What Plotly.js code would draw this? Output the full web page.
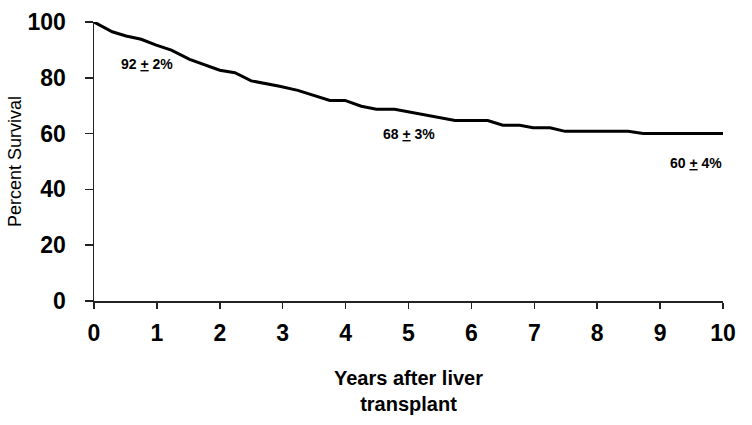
<!DOCTYPE html>
<html>
<head>
<meta charset="utf-8">
<script src="https://cdn.plot.ly/plotly-3.0.1.min.js"></script>
<style>html,body{margin:0;padding:0;background:#fff;}#chart{width:752px;height:425px;}</style>
</head>
<body>
<div id="chart"></div>
<script>
// Survival curve
const years = [0, 0.29, 0.51, 0.75, 0.99, 1.23, 1.52, 2.0, 2.24, 2.5, 2.95, 3.24, 3.75, 3.99, 4.25, 4.49, 4.78, 5.23, 5.74, 6.26, 6.5, 6.77, 6.98, 7.25, 7.49, 8.49, 8.73, 10];
const survival = [100, 96.5, 95.0, 93.8, 91.7, 89.9, 86.6, 82.7, 81.8, 78.9, 77.0, 75.5, 71.9, 71.9, 69.8, 68.7, 68.7, 66.9, 64.7, 64.7, 63.0, 63.0, 62.1, 62.1, 60.8, 60.8, 60.0, 60.0];

// Annotations: survival estimates at 1, 5 and 10 years
const labelText = ["92 <u>+</u> 2%", "68 <u>+</u> 3%", "60 <u>+</u> 4%"];
const labelX = [0.84, 5.0, 9.57];
const labelY = [84.9, 60.0, 49.6];

const xTicks = [0, 1, 2, 3, 4, 5, 6, 7, 8, 9, 10];
const yTicks = [0, 20, 40, 60, 80, 100];

const fontFam = '"Liberation Sans", Arial, sans-serif';

const trace = {
  x: years, y: survival, type: 'scatter', mode: 'lines',
  line: {color: '#000', width: 3}, cliponaxis: false, hoverinfo: 'skip'
};

const annotations = labelText.map((t, i) => ({
  x: labelX[i], y: labelY[i], xref: 'x', yref: 'y', text: '<b>' + t + '</b>',
  showarrow: false, font: {family: fontFam, size: 14, color: '#000'}
}));

const layout = {
  width: 752, height: 425,
  margin: {l: 94, r: 29, t: 22, b: 124},
  paper_bgcolor: '#fff', plot_bgcolor: '#fff',
  showlegend: false,
  font: {family: fontFam, color: '#000'},
  xaxis: {
    range: [0, 10], tickvals: xTicks, ticktext: xTicks.map(v => '<b>' + v + '</b>'),
    showgrid: false, zeroline: false, showline: true, linecolor: '#222', linewidth: 1.5,
    ticks: 'outside', ticklen: 6, tickwidth: 1.5, tickcolor: '#222',
    tickfont: {family: fontFam, size: 23, color: '#000'},
    ticklabelstandoff: 5,
    title: {text: '<b>Years after liver<br>transplant</b>', font: {family: fontFam, size: 20, color: '#000'}, standoff: 26}
  },
  yaxis: {
    range: [0, 100], tickvals: yTicks, ticktext: yTicks.map(v => '<b>' + v + '</b>'),
    showgrid: false, zeroline: false, showline: true, linecolor: '#222', linewidth: 1.5,
    ticks: 'outside', ticklen: 8, tickwidth: 1.5, tickcolor: '#222',
    tickfont: {family: fontFam, size: 23, color: '#000'},
    ticklabelstandoff: 14,
    title: {text: 'Percent Survival', font: {family: fontFam, size: 18, color: '#000'}, standoff: 1}
  },
  annotations: annotations
};

Plotly.newPlot('chart', [trace], layout, {displayModeBar: false, staticPlot: true});
</script>
</body>
</html>
